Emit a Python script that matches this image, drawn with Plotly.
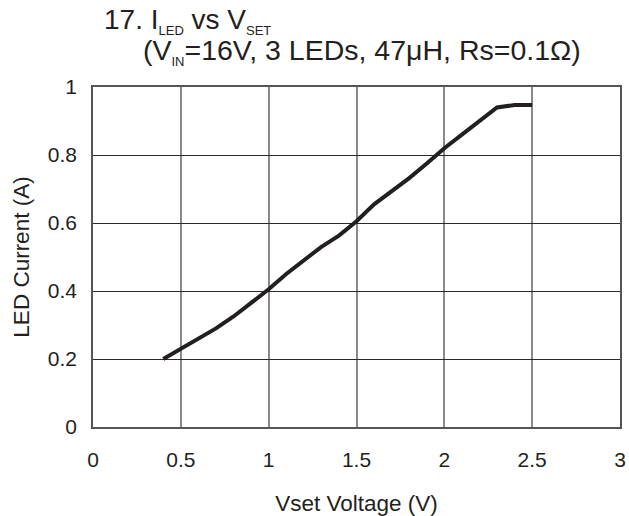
import plotly.graph_objects as go

vset = [0.4, 0.5, 0.6, 0.7, 0.8, 0.9, 1.0, 1.1, 1.2, 1.3, 1.4, 1.5, 1.6, 1.7, 1.8, 1.9, 2.0, 2.1, 2.2, 2.3, 2.4, 2.5]
iled = [0.200, 0.230, 0.258, 0.290, 0.325, 0.364, 0.405, 0.450, 0.490, 0.530, 0.563, 0.605, 0.655, 0.692, 0.732, 0.775, 0.820, 0.860, 0.900, 0.940, 0.947, 0.947]

x_ticks = [0, 0.5, 1, 1.5, 2, 2.5, 3]
x_tick_labels = ["0", "0.5", "1", "1.5", "2", "2.5", "3"]
y_ticks = [0, 0.2, 0.4, 0.6, 0.8, 1]
y_tick_labels = ["0", "0.2", "0.4", "0.6", "0.8", "1"]

FONT = "Liberation Sans, Arial, sans-serif"
TXT = "#231f20"

fig = go.Figure()
fig.add_trace(go.Scatter(x=vset, y=iled, mode="lines",
                         line=dict(color="#231f20", width=4), showlegend=False,
                         hoverinfo="skip"))

fig.update_layout(
    width=629, height=516,
    margin=dict(l=93, r=9, t=87, b=89),
    paper_bgcolor="white", plot_bgcolor="white",
    font=dict(family=FONT, size=21, color=TXT),
    showlegend=False,
)
fig.update_xaxes(
    range=[0, 3], tickvals=x_ticks, ticktext=x_tick_labels,
    showgrid=True, gridcolor="#8a8a8a", gridwidth=1.5,
    showline=True, linecolor="#555", linewidth=1.5, mirror=True,
    ticks="outside", ticklen=13, tickcolor="rgba(0,0,0,0)",
    zeroline=False, automargin=False,
    tickfont=dict(size=21),
    title=dict(text="Vset Voltage (V)", font=dict(size=22.5), standoff=25),
)
fig.update_yaxes(
    range=[0, 1], tickvals=y_ticks, ticktext=y_tick_labels,
    showgrid=True, gridcolor="#2a2a2a", gridwidth=1,
    showline=True, linecolor="#555", linewidth=1.5, mirror=True,
    ticks="outside", ticklen=10, tickcolor="rgba(0,0,0,0)",
    zeroline=False, automargin=False,
    tickfont=dict(size=21),
    title=dict(text="LED Current (A)", font=dict(size=22.5), standoff=12),
)

fig.add_annotation(
    xref="paper", yref="paper", x=(102 - 93) / 527, y=(427 - 21) / 340,
    xanchor="left", yanchor="middle", showarrow=False,
    text="17. I<sub><span style='font-size:13px'>LED</span></sub> vs V<sub><span style='font-size:13px'>SET</span></sub>",
    font=dict(family=FONT, size=28, color=TXT),
)
fig.add_annotation(
    xref="paper", yref="paper", x=(141 - 93) / 527, y=(427 - 52) / 340,
    xanchor="left", yanchor="middle", showarrow=False,
    text="(V<sub><span style='font-size:13px'>IN</span></sub>=16V, 3 LEDs, 47μH, Rs=0.1Ω)",
    font=dict(family=FONT, size=28.5, color=TXT),
)

fig.write_html("out.html", config={"displayModeBar": False},
               post_script="document.body.style.margin='0';document.body.style.overflow='hidden';")
